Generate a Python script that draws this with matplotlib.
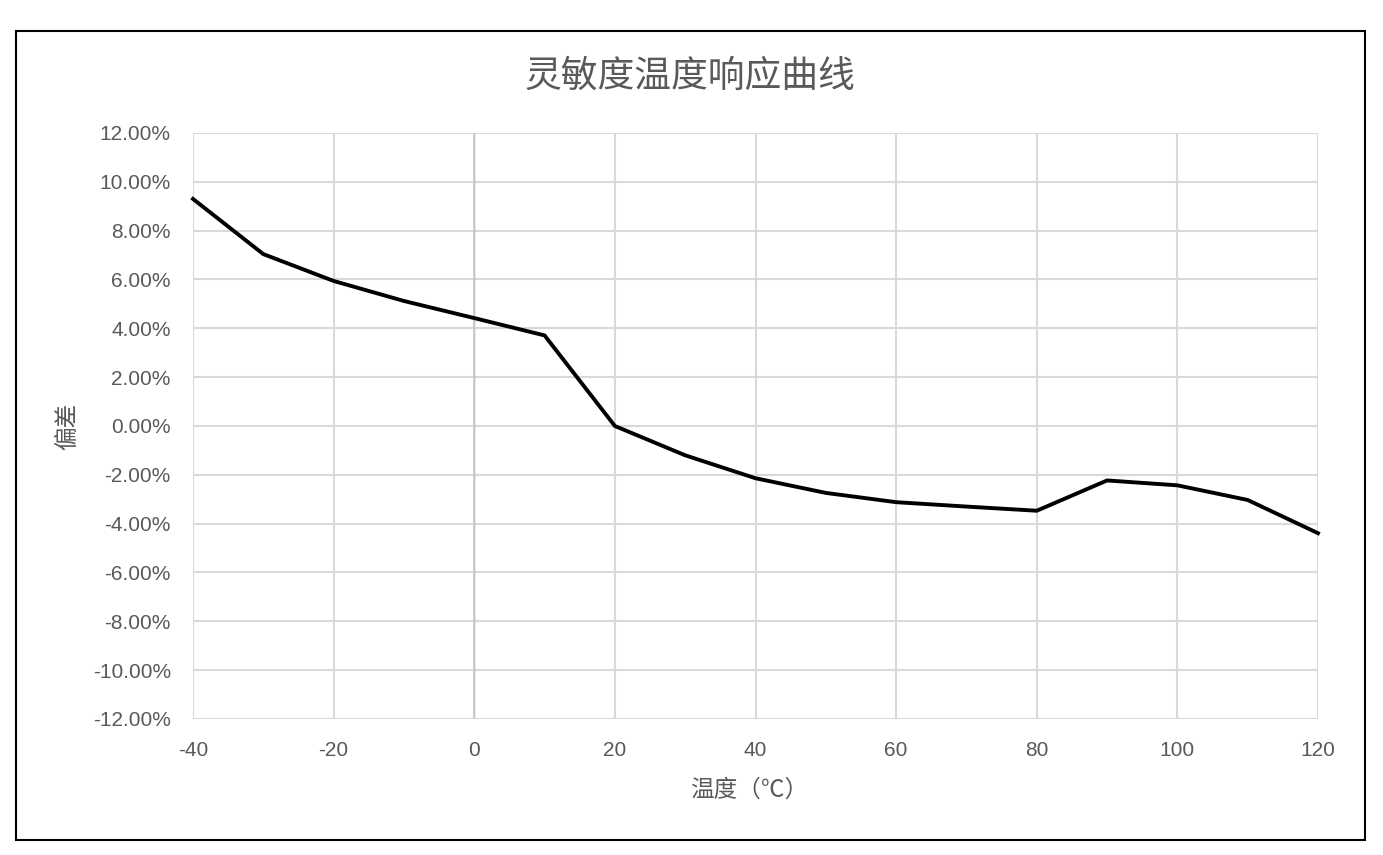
import matplotlib
matplotlib.use("Agg")
import matplotlib.pyplot as plt
from matplotlib.ticker import FuncFormatter, MultipleLocator
from matplotlib.patches import Rectangle

plt.rcParams['font.family'] = ['Noto Sans CJK SC', 'DejaVu Sans']
plt.rcParams['axes.unicode_minus'] = False

temps = [-40, -30, -20, -10, 0, 10, 20, 30, 40, 50, 60, 70, 80, 90, 100, 110, 120]
deviation = [9.30, 7.04, 5.94, 5.12, 4.42, 3.71, 0.00, -1.20, -2.14, -2.74, -3.12, -3.30, -3.47,
             -2.23, -2.43, -3.03, -4.39]
deviation = [v / 100 for v in deviation]

title = "灵敏度温度响应曲线"
xlabel = "温度（℃）"
ylabel = "偏差"

W, H = 1383, 855
fig = plt.figure(figsize=(W / 100, H / 100), dpi=100)
fig.patch.set_facecolor('white')

# outer frame
fig.add_artist(Rectangle((16 / W, 1 - 840 / H), (1365 - 16) / W, (840 - 31) / H,
                         transform=fig.transFigure, fill=False, edgecolor='black', linewidth=1.5))

left, right, top, bottom = 193, 1318, 133, 719
ax = fig.add_axes([left / W, 1 - bottom / H, (right - left) / W, (bottom - top) / H])

ax.plot(temps, deviation, color='black', linewidth=2.8, solid_joinstyle='miter', zorder=5, clip_on=False)

ax.set_xlim(-40, 120)
ax.set_ylim(-0.12, 0.12)
ax.xaxis.set_major_locator(MultipleLocator(20))
ax.yaxis.set_major_locator(MultipleLocator(0.02))
ax.yaxis.set_major_formatter(FuncFormatter(lambda v, p: f"{v*100:.2f}%"))

for s in ax.spines.values():
    s.set_visible(False)
ax.grid(True, color='#d9d9d9', linewidth=1.5)
ax.axvline(0, color='#bfbfbf', linewidth=1.0, zorder=2)
ax.tick_params(length=0, labelsize=15, labelcolor='#595959')
ax.tick_params(axis='x', pad=16)
ax.tick_params(axis='y', pad=16)
for lab in ax.get_xticklabels() + ax.get_yticklabels():
    lab.set_family(['Liberation Sans', 'DejaVu Sans'])

fig.text(749 / W, 1 - 790 / H, xlabel, ha='center', va='center', fontsize=17, color='#595959')
fig.text(68 / W, 1 - 426 / H, ylabel, ha='center', va='center', rotation=90, fontsize=17, color='#595959')

fig.text(690 / W, 1 - 76 / H, title, ha='center', va='center',
         fontsize=26.5, color='#595959', fontweight='light')

fig.savefig("out.png", dpi=100, facecolor='white')
